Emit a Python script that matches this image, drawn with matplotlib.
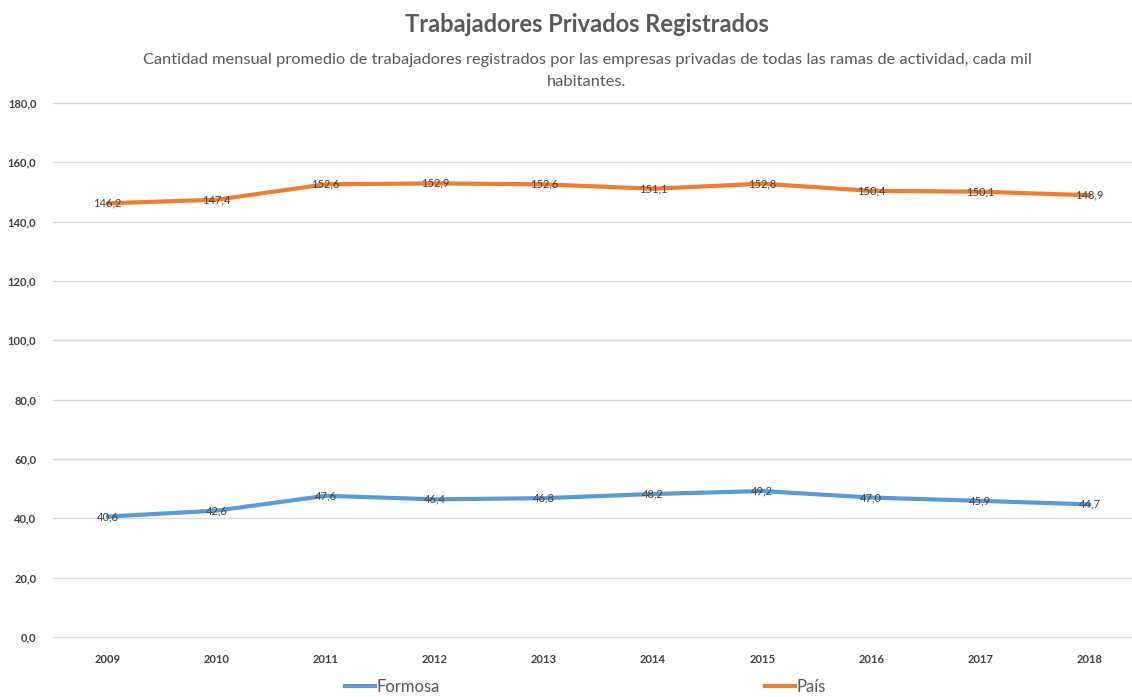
import matplotlib
matplotlib.use('Agg')
import matplotlib.pyplot as plt
from matplotlib.lines import Line2D

years = ['2009', '2010', '2011', '2012', '2013', '2014', '2015', '2016', '2017', '2018']
formosa = [40.6, 42.6, 47.6, 46.4, 46.8, 48.2, 49.2, 47.0, 45.9, 44.7]
pais = [146.2, 147.4, 152.6, 152.9, 152.6, 151.1, 152.8, 150.4, 150.1, 148.9]
y_ticks = [0, 20, 40, 60, 80, 100, 120, 140, 160, 180]

title = 'Trabajadores Privados Registrados'
subtitle = ('Cantidad mensual promedio de trabajadores registrados por las empresas privadas de todas las ramas de actividad, cada mil\n'
            'habitantes.')

plt.rcParams['font.family'] = ['Lato', 'DejaVu Sans']

blue = '#5B9BD5'
orange = '#ED7D31'
text_col = '#404040'

fig = plt.figure(figsize=(11.32, 6.97), dpi=100)
ax = fig.add_axes([53 / 1132, 60 / 697, 1091 / 1132, 534 / 697])

x = range(len(years))
ax.plot(x, formosa, color=blue, lw=3, solid_capstyle='round', zorder=3)
ax.plot(x, pais, color=orange, lw=3, solid_capstyle='round', zorder=3)

for xi, v in zip(x, formosa):
    ax.text(xi, v, f'{v:.1f}'.replace('.', ','), ha='center', va='center',
            fontsize=8, color=text_col, zorder=4)
for xi, v in zip(x, pais):
    ax.text(xi, v, f'{v:.1f}'.replace('.', ','), ha='center', va='center',
            fontsize=8, color=text_col, zorder=4)

ax.set_xlim(-0.5, len(years) - 0.5)
ax.set_ylim(0, 180)
ax.set_yticks(y_ticks)
ax.set_yticklabels([f'{t:.1f}'.replace('.', ',') for t in y_ticks],
                   fontsize=8, fontweight='bold', color=text_col)
ax.set_xticks(list(x))
ax.set_xticklabels(years, fontsize=8, fontweight='bold', color=text_col)
ax.tick_params(length=0, pad=12)
ax.tick_params(axis='y', pad=12)
ax.grid(axis='y', color='#D9D9D9', lw=1)
for gl in ax.get_ygridlines():
    gl.set_clip_on(False)
ax.set_axisbelow(True)
for s in ax.spines.values():
    s.set_visible(False)

fig.text(587 / 1132, 1 - 25 / 697, title, ha='center', va='center',
         fontsize=17, fontweight='bold', color='#595959')
fig.text(587 / 1132, 1 - 71 / 697, subtitle, ha='center', va='center',
         fontsize=11.8, color='#595959', linespacing=1.75)

handles = [Line2D([], [], color=blue, lw=3), Line2D([], [], color=orange, lw=3)]
fig.legend(handles, ['Formosa', 'País'], loc='center', bbox_to_anchor=(585.5 / 1132, 1 - 687 / 697),
           ncol=2, frameon=False, fontsize=12, handlelength=1.8, handletextpad=0.1,
           columnspacing=19.5, labelcolor='#595959', borderpad=0)

fig.savefig('out.png', dpi=100)
